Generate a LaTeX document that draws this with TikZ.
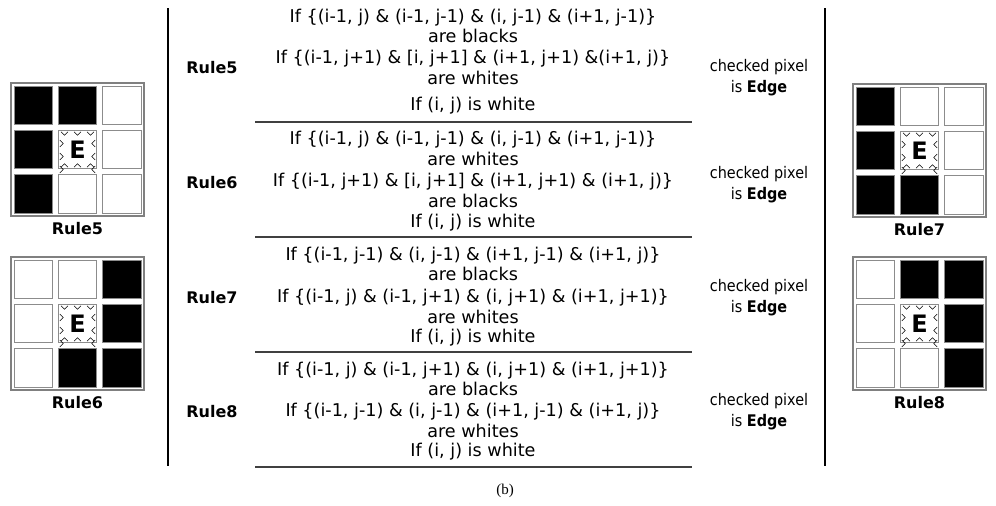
\documentclass[tikz,border=0pt]{standalone}
\usepackage{fontspec}
\setmainfont{DejaVu Sans}
\newfontfamily\condfont{DejaVu Sans Condensed}
\newfontfamily\seriffont{Liberation Serif}
\begin{document}
\begin{tikzpicture}[x=1pt,y=-1pt,
  ruletext/.style={font=\fontsize{17.6}{18}\selectfont, inner sep=0pt, anchor=base},
  rulelabel/.style={font=\fontsize{16}{17}\selectfont\bfseries, inner sep=0pt},
  resulttext/.style={font=\condfont\fontsize{16}{21}\selectfont, align=center, inner sep=0pt},
  sepline/.style={draw=black!75, line width=1.6pt},
  frameline/.style={draw=black, line width=1.3pt},
  cellw/.style={draw=black!45, line width=0.9pt, fill=white, minimum size=38.5pt, inner sep=0pt},
  cellb/.style={draw=black!45, line width=0.9pt, fill=black, minimum size=38.5pt, inner sep=0pt},
  cellc/.style={draw=black!45, line width=0.9pt, fill=white, minimum size=38.5pt, inner sep=0pt, font=\fontsize{24}{24}\selectfont\bfseries},
  gridframe/.style={draw=black!50, line width=1.3pt},
  chev/.style={draw=black, line width=0.6pt},
  gridlabel/.style={font=\fontsize{16}{17}\selectfont\bfseries, inner sep=0pt}
]
\useasboundingbox (0,0) rectangle (996,506);
\fill[white] (0,0) rectangle (996,506);

% grid macro: #1 prefix, #2 x0, #3 y0, #4 black cells c/r, #5 label
\newcommand{\pixgrid}[5]{%
  \draw[gridframe] (#2,#3) rectangle ++(133,133);
  \foreach \c in {0,1,2} {\foreach \r in {0,1,2} {
    \node[cellw] (#1-\c-\r) at ({#2+22.2+44.3*\c},{#3+22.2+44.3*\r}) {};
  }}
  \foreach \c/\r in {#4} {
    \node[cellb] (#1b-\c-\r) at ({#2+22.2+44.3*\c},{#3+22.2+44.3*\r}) {};
  }
  \node[cellc] (#1-E) at ({#2+22.2+44.3},{#3+22.2+44.3}) {E};
  \foreach \t in {-13,0,13} {
    \draw[chev] ([xshift=\t pt-3.5pt,yshift=-2pt]#1-E.north) -- ++(3.5,3.5) -- ++(3.5,-3.5);
    \draw[chev] ([xshift=\t pt-3.5pt,yshift=2pt]#1-E.south) -- ++(3.5,-3.5) -- ++(3.5,3.5);
    \draw[chev] ([yshift=\t pt-3.5pt,xshift=2pt]#1-E.west) -- ++(3.5,3.5) -- ++(-3.5,3.5);
    \draw[chev] ([yshift=\t pt-3.5pt,xshift=-2pt]#1-E.east) -- ++(-3.5,3.5) -- ++(3.5,3.5);
  }
  \node[gridlabel] (#1-lab) at ({#2+66.5},{#3+146}) {#5};
}

\pixgrid{g5}{11}{83}{0/0,1/0,0/1,0/2}{Rule5}
\pixgrid{g6}{11}{257}{2/0,2/1,1/2,2/2}{Rule6}
\pixgrid{g7}{853}{84}{0/0,0/1,0/2,1/2}{Rule7}
\pixgrid{g8}{853}{257}{1/0,2/0,2/1,2/2}{Rule8}

% frame lines
\coordinate (lt) at (168,8); \coordinate (lb) at (168,466);
\coordinate (rt) at (825,8); \coordinate (rb) at (825,466);
\draw[frameline] (lt) -- (lb);
\draw[frameline] (rt) -- (rb);

% separators
\foreach \y/\n in {122/1,237/2,352/3,467/4} {
  \coordinate (s\n a) at (255,\y); \coordinate (s\n b) at (692,\y);
  \draw[sepline] (s\n a) -- (s\n b);
}

% rule labels
\node[rulelabel] (r5) at (212,68) {Rule5};
\node[rulelabel] (r6) at (212,183) {Rule6};
\node[rulelabel] (r7) at (212,298) {Rule7};
\node[rulelabel] (r8) at (212,412) {Rule8};

\def\cx{473}
% Rule5 text
\node[ruletext] (t5a) at (\cx,22) {If \{(i-1, j) \& (i-1, j-1) \& (i, j-1) \& (i+1, j-1)\}};
\node[ruletext] (t5b) at (\cx,42.5) {are blacks};
\node[ruletext] (t5c) at (\cx,63) {If \{(i-1, j+1) \& [i, j+1] \& (i+1, j+1) \&(i+1, j)\}};
\node[ruletext] (t5d) at (\cx,84) {are whites};
\node[ruletext] (t5e) at (\cx,110) {If (i, j) is white};
% Rule6 text
\node[ruletext] (t6a) at (\cx,144) {If \{(i-1, j) \& (i-1, j-1) \& (i, j-1) \& (i+1, j-1)\}};
\node[ruletext] (t6b) at (\cx,165) {are whites};
\node[ruletext] (t6c) at (\cx,186) {If \{(i-1, j+1) \& [i, j+1] \& (i+1, j+1) \& (i+1, j)\}};
\node[ruletext] (t6d) at (\cx,207) {are blacks};
\node[ruletext] (t6e) at (\cx,227) {If (i, j) is white};
% Rule7 text
\node[ruletext] (t7a) at (\cx,260) {If \{(i-1, j-1) \& (i, j-1) \& (i+1, j-1) \& (i+1, j)\}};
\node[ruletext] (t7b) at (\cx,280) {are blacks};
\node[ruletext] (t7c) at (\cx,302) {If \{(i-1, j) \& (i-1, j+1) \& (i, j+1) \& (i+1, j+1)\}};
\node[ruletext] (t7d) at (\cx,323) {are whites};
\node[ruletext] (t7e) at (\cx,342) {If (i, j) is white};
% Rule8 text
\node[ruletext] (t8a) at (\cx,375) {If \{(i-1, j) \& (i-1, j+1) \& (i, j+1) \& (i+1, j+1)\}};
\node[ruletext] (t8b) at (\cx,395) {are blacks};
\node[ruletext] (t8c) at (\cx,416) {If \{(i-1, j-1) \& (i, j-1) \& (i+1, j-1) \& (i+1, j)\}};
\node[ruletext] (t8d) at (\cx,437) {are whites};
\node[ruletext] (t8e) at (\cx,456) {If (i, j) is white};

% results
\node[resulttext] (e5) at (759,78) {checked pixel\\is \textbf{Edge}};
\node[resulttext] (e6) at (759,185) {checked pixel\\is \textbf{Edge}};
\node[resulttext] (e7) at (759,298) {checked pixel\\is \textbf{Edge}};
\node[resulttext] (e8) at (759,412) {checked pixel\\is \textbf{Edge}};

\node[font=\seriffont\fontsize{15}{16}\selectfont, inner sep=0pt] (cap) at (505,491) {(b)};
\end{tikzpicture}
\end{document}
